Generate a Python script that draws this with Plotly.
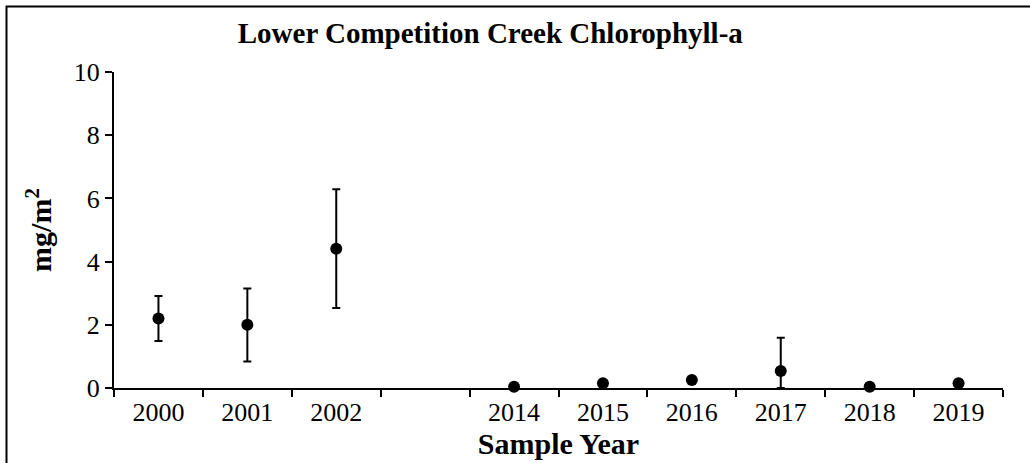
import plotly.graph_objects as go

# categorias do eixo x (com um espaço vazio entre 2002 e 2014)
categories = ["2000", "2001", "2002", " ", "2014", "2015", "2016", "2017", "2018", "2019"]
years = ["2000", "2001", "2002", "2014", "2015", "2016", "2017", "2018", "2019"]
chl_mean = [2.2, 2.0, 4.41, 0.04, 0.15, 0.25, 0.54, 0.04, 0.15]
err_plus = [0.71, 1.15, 1.88, 0.0, 0.0, 0.0, 1.05, 0.0, 0.08]
err_minus = [0.71, 1.16, 1.88, 0.0, 0.0, 0.0, 0.54, 0.0, 0.08]
y_ticks = [0, 2, 4, 6, 8, 10]

FONT = "Liberation Serif, Times New Roman, serif"

fig = go.Figure()

fig.add_trace(go.Scatter(
    x=years,
    y=chl_mean,
    mode="markers",
    marker=dict(color="black", size=12),
    error_y=dict(type="data", symmetric=False, array=err_plus, arrayminus=err_minus,
                 color="black", thickness=2, width=4),
    cliponaxis=False,
    showlegend=False
))

fig.update_layout(
    width=1030,
    height=463,
    margin=dict(l=114, r=27, t=72, b=75),
    paper_bgcolor="white",
    plot_bgcolor="white",
    font=dict(family=FONT, size=26, color="black"),
    title=dict(text="<b>Lower Competition Creek Chlorophyll-a</b>",
               font=dict(size=29), x=0.476, xanchor="center",
               y=1 - 33 / 463, yanchor="middle"),
)

fig.update_xaxes(
    type="category",
    categoryorder="array",
    categoryarray=categories,
    range=[-0.5, 9.5],
    tickson="boundaries",
    ticks="outside",
    ticklen=7,
    tickwidth=2,
    tickcolor="black",
    tickfont=dict(family=FONT, size=26),
    showline=True,
    linecolor="black",
    linewidth=2,
    showgrid=False,
    automargin=False,
    title=dict(text="<b>Sample Year</b>", font=dict(size=30), standoff=4),
)

fig.update_yaxes(
    range=[0, 10],
    tickvals=y_ticks,
    ticks="outside",
    ticklen=7,
    tickwidth=2,
    tickcolor="black",
    tickfont=dict(family=FONT, size=26),
    showline=True,
    linecolor="black",
    linewidth=2,
    showgrid=False,
    zeroline=False,
    automargin=False,
    title=dict(text="<b>mg/m<sup>2</sup></b>", font=dict(size=30), standoff=13),
)

# moldura externa do gráfico
fig.add_shape(type="rect", xref="paper", yref="paper",
              x0=(6.5 - 114) / 889, x1=(1040 - 114) / 889,
              y0=(388 - 470) / 316, y1=(388 - 6.5) / 316,
              line=dict(color="black", width=2), layer="above")

# remove a margem padrão do body para a figura ocupar a janela toda
fig.write_html("out.html", config={"displayModeBar": False},
               post_script="document.body.style.margin='0px';")
